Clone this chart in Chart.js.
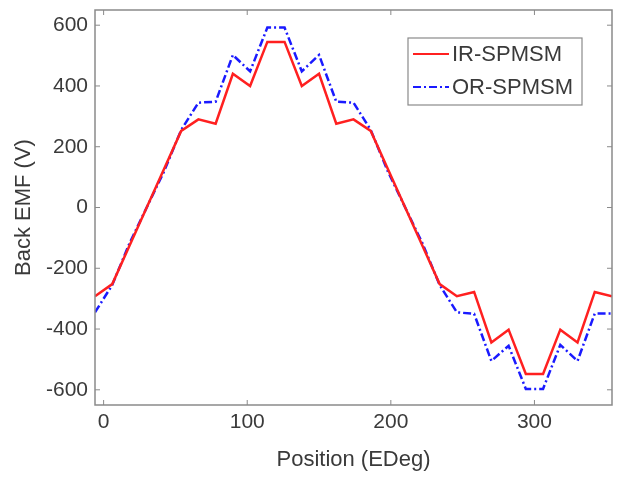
<!DOCTYPE html>
<html>
<head>
<meta charset="utf-8">
<script src="https://cdn.jsdelivr.net/npm/chart.js@4"></script>
<style>
  html, body { margin: 0; padding: 0; background: #fff; }
  #wrap { width: 618px; height: 479px; }
</style>
</head>
<body>
<div id="wrap"><canvas id="emfChart" width="618" height="479"></canvas></div>
<script>
const positions = [-6,6,18,30,42,54,66,78,90,102,114,126,138,150,162,174,186,198,210,222,234,246,258,270,282,294,306,318,330,342,354]
const irSpmsm = [-292,-252,-126,0,126,252,290,276,440,400,545,545,400,440,276,290,252,126,0,-126,-252,-292,-278,-444,-402,-548,-548,-402,-444,-278,-292]
const orSpmsm = [-345,-255,-118,0,118,255,345,348,502,448,592,592,448,502,348,345,255,118,0,-118,-255,-345,-350,-505,-455,-597,-597,-452,-505,-349,-349]
const seriesNames = ["IR-SPMSM", "OR-SPMSM"]
const xTickValues = [0, 100, 200, 300]
const yTickValues = [-600, -400, -200, 0, 200, 400, 600]

const textColor = "#3a3a3a"
const axisColor = "#8a8a8a"
const fontFamily = "'Liberation Sans', Arial, sans-serif"
const blueDash = [8, 3, 2, 3]

function toPoints(values){
  return positions.map((x, i) => ({ x: x, y: values[i] }))
}

// box, inside ticks and the legend, drawn on top of the chart
const matlabBox = {
  id: "matlabBox",
  afterDatasetsDraw(chart){
    const ctx = chart.ctx
    const area = chart.chartArea
    const xs = chart.scales.x
    const ys = chart.scales.y
    const tick = 5

    ctx.save()
    ctx.strokeStyle = axisColor
    ctx.lineWidth = 1.5
    ctx.strokeRect(area.left, area.top, area.right - area.left, area.bottom - area.top)

    ctx.lineWidth = 1
    ctx.beginPath()
    xTickValues.forEach((v) => {
      const px = xs.getPixelForValue(v)
      ctx.moveTo(px, area.bottom)
      ctx.lineTo(px, area.bottom - tick)
      ctx.moveTo(px, area.top)
      ctx.lineTo(px, area.top + tick)
    })
    yTickValues.forEach((v) => {
      const py = ys.getPixelForValue(v)
      ctx.moveTo(area.left, py)
      ctx.lineTo(area.left + tick, py)
      ctx.moveTo(area.right, py)
      ctx.lineTo(area.right - tick, py)
    })
    ctx.stroke()

    // legend
    const lx = 408, ly = 38, lw = 174, lh = 67
    ctx.fillStyle = "#fff"
    ctx.fillRect(lx, ly, lw, lh)
    ctx.strokeStyle = axisColor
    ctx.lineWidth = 1.2
    ctx.strokeRect(lx, ly, lw, lh)

    ctx.font = "22px " + fontFamily
    ctx.textBaseline = "middle"
    ctx.textAlign = "left"
    chart.data.datasets.forEach((ds, i) => {
      const rowY = ly + 16 + i * 33
      ctx.strokeStyle = ds.borderColor
      ctx.lineWidth = 2
      ctx.setLineDash(ds.borderDash || [])
      ctx.beginPath()
      ctx.moveTo(lx + 5, rowY)
      ctx.lineTo(lx + 41, rowY)
      ctx.stroke()
      ctx.setLineDash([])
      ctx.fillStyle = textColor
      ctx.fillText(ds.label, lx + 44, rowY + 1)
    })
    ctx.restore()
  }
}

new Chart(document.getElementById("emfChart"), {
  type: "line",
  data: {
    datasets: [{
      label: seriesNames[0],
      data: toPoints(irSpmsm),
      borderColor: "#ff2020",
      borderWidth: 2.5,
      pointRadius: 0,
      tension: 0
    }, {
      label: seriesNames[1],
      data: toPoints(orSpmsm),
      borderColor: "#1a1aff",
      borderWidth: 2.5,
      borderDash: blueDash,
      pointRadius: 0,
      tension: 0
    }]
  },
  options: {
    responsive: false,
    animation: false,
    layout: { padding: { left: 0, right: 6, top: 10, bottom: 0 } },
    plugins: {
      legend: { display: false },
      tooltip: { enabled: false }
    },
    scales: {
      x: {
        type: "linear",
        min: -6,
        max: 354,
        afterBuildTicks: (scale) => { scale.ticks = xTickValues.map((v) => ({ value: v })) },
        afterFit: (scale) => {
          scale.height = 74
          scale.paddingLeft = 0
          scale.paddingRight = 0
        },
        grid: { display: false, drawTicks: false },
        border: { display: false },
        ticks: { padding: 5, color: textColor, font: { size: 21, family: fontFamily } },
        title: {
          display: true,
          text: "Position (EDeg)",
          color: textColor,
          font: { size: 22, family: fontFamily },
          padding: { top: 0, bottom: 6 }
        }
      },
      y: {
        min: -650,
        max: 650,
        afterBuildTicks: (scale) => { scale.ticks = yTickValues.map((v) => ({ value: v })) },
        afterFit: (scale) => {
          scale.width = 95
          scale.paddingTop = 0
          scale.paddingBottom = 0
        },
        grid: { display: false, drawTicks: false },
        border: { display: false },
        ticks: { padding: 7, color: textColor, font: { size: 21, family: fontFamily } },
        title: {
          display: true,
          text: "Back EMF (V)",
          color: textColor,
          font: { size: 22, family: fontFamily },
          padding: { top: 11, bottom: 0 }
        }
      }
    }
  },
  plugins: [matlabBox]
})
</script>
</body>
</html>
